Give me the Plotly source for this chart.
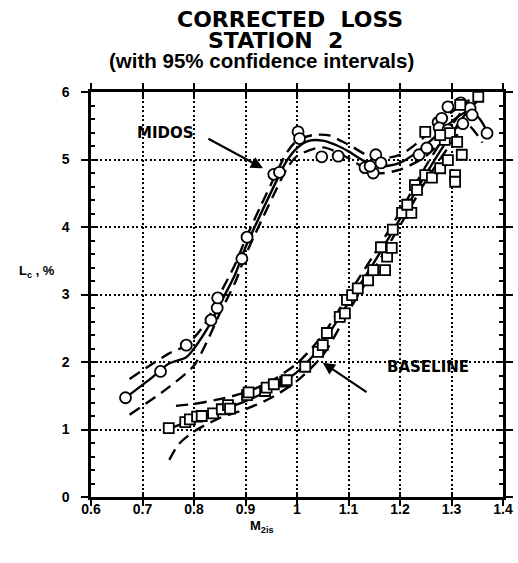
import plotly.graph_objects as go

# ---------------- data ----------------
midos_x = [0.667, 0.735, 0.785, 0.833, 0.845, 0.846, 0.893, 0.903, 0.955, 0.966,
           1.002, 1.005, 1.048, 1.080, 1.132, 1.148, 1.142, 1.153, 1.163, 1.237,
           1.252, 1.274, 1.281, 1.293, 1.318, 1.336, 1.340, 1.322, 1.369, 1.276, 1.293]
midos_y = [1.47, 1.86, 2.25, 2.62, 2.80, 2.95, 3.53, 3.85, 4.78, 4.81,
           5.41, 5.31, 5.04, 5.05, 4.88, 4.80, 4.90, 5.07, 4.95, 5.07,
           5.17, 5.55, 5.61, 5.78, 5.84, 5.76, 5.66, 5.53, 5.39, 5.47, 5.44]

base_x = [0.751, 0.783, 0.792, 0.806, 0.815, 0.837, 0.854, 0.866, 0.870, 0.903,
          0.906, 0.938, 0.941, 0.955, 0.977, 0.980, 1.016, 1.041, 1.050, 1.058,
          1.083, 1.093, 1.097, 1.107, 1.118, 1.138, 1.148, 1.171, 1.175, 1.163,
          1.184, 1.186, 1.204, 1.222, 1.214, 1.229, 1.233, 1.249, 1.262, 1.278,
          1.293, 1.287, 1.297, 1.311, 1.320, 1.307, 1.307, 1.249, 1.317, 1.352, 1.278]
base_y = [1.02, 1.11, 1.15, 1.19, 1.20, 1.24, 1.30, 1.36, 1.31, 1.51,
          1.55, 1.57, 1.62, 1.67, 1.71, 1.73, 1.93, 2.15, 2.25, 2.43,
          2.67, 2.72, 2.92, 2.99, 3.09, 3.21, 3.36, 3.36, 3.56, 3.70,
          3.69, 3.96, 4.21, 4.21, 4.33, 4.62, 4.55, 4.77, 4.73, 4.87,
          4.99, 5.29, 5.39, 5.26, 5.07, 4.77, 4.67, 5.41, 5.81, 5.93, 5.36]

# fitted curve and 95% confidence limits, MIDOS
midos_fit_x = [0.667, 0.72, 0.75, 0.785, 0.80, 0.83, 0.85, 0.88, 0.90, 0.93, 0.96, 0.98,
               1.00, 1.02, 1.05, 1.08, 1.10, 1.13, 1.16, 1.20, 1.24, 1.28, 1.31, 1.335, 1.355, 1.37]
midos_fit_y = [1.47, 1.78, 1.97, 2.07, 2.20, 2.55, 2.85, 3.30, 3.70, 4.20, 4.68, 4.98,
               5.17, 5.27, 5.28, 5.20, 5.12, 4.98, 4.90, 4.95, 5.15, 5.42, 5.62, 5.72, 5.60, 5.40]
midos_up_x = [0.675, 0.75, 0.785, 0.82, 0.85, 0.88, 0.90, 0.93, 0.96, 0.98, 1.00, 1.03,
              1.06, 1.10, 1.15, 1.20, 1.25, 1.30, 1.335]
midos_up_y = [1.75, 2.12, 2.25, 2.55, 3.00, 3.45, 3.82, 4.32, 4.80, 5.10, 5.28, 5.36,
              5.36, 5.22, 5.02, 5.07, 5.35, 5.70, 5.88]
midos_lo_x = [0.675, 0.75, 0.80, 0.83, 0.85, 0.88, 0.90, 0.93, 0.96, 0.98, 1.00, 1.05,
              1.10, 1.15, 1.20, 1.25, 1.30, 1.33, 1.36]
midos_lo_y = [1.22, 1.62, 1.95, 2.38, 2.72, 3.18, 3.58, 4.08, 4.56, 4.86, 5.05, 5.18,
              5.02, 4.80, 4.85, 5.05, 5.42, 5.52, 5.25]

# fitted curve and 95% confidence limits, BASELINE
base_fit_x = [0.755, 0.80, 0.85, 0.90, 0.95, 1.00, 1.03, 1.06, 1.10, 1.15, 1.20, 1.25,
              1.30, 1.33, 1.355]
base_fit_y = [1.02, 1.15, 1.28, 1.42, 1.60, 1.85, 2.08, 2.40, 2.88, 3.48, 4.12, 4.78,
              5.38, 5.70, 5.90]
base_up_x = [0.765, 0.80, 0.85, 0.90, 0.95, 1.00, 1.05, 1.10, 1.15, 1.20, 1.25, 1.30, 1.33]
base_up_y = [1.35, 1.38, 1.45, 1.55, 1.72, 1.98, 2.40, 3.00, 3.60, 4.22, 4.90, 5.50, 5.82]
base_lo_x = [0.752, 0.77, 0.80, 0.85, 0.90, 0.95, 1.00, 1.05, 1.10, 1.15, 1.20, 1.25, 1.30, 1.33]
base_lo_y = [0.55, 0.78, 0.97, 1.17, 1.30, 1.47, 1.72, 2.10, 2.75, 3.38, 4.02, 4.68, 5.25, 5.55]

x_ticks = [0.6, 0.7, 0.8, 0.9, 1.0, 1.1, 1.2, 1.3, 1.4]
y_ticks = [0, 1, 2, 3, 4, 5, 6]

title_lines = ["CORRECTED  LOSS", "STATION  2", "(with 95% confidence intervals)"]

# ---------------- figure ----------------
fig = go.Figure()

dash_style = "12px,7px"
for xs, ys, dsh in [(midos_up_x, midos_up_y, dash_style), (midos_lo_x, midos_lo_y, dash_style),
                    (base_up_x, base_up_y, dash_style), (base_lo_x, base_lo_y, dash_style),
                    (midos_fit_x, midos_fit_y, "solid"), (base_fit_x, base_fit_y, "solid")]:
    fig.add_trace(go.Scatter(x=xs, y=ys, mode="lines",
                             line=dict(color="black", width=2.4, dash=dsh, shape="spline", smoothing=0.8),
                             hoverinfo="skip", showlegend=False))

fig.add_trace(go.Scatter(x=midos_x, y=midos_y, mode="markers", showlegend=False,
                         marker=dict(symbol="circle", size=11, color="white",
                                     line=dict(color="black", width=1.8))))
fig.add_trace(go.Scatter(x=base_x, y=base_y, mode="markers", showlegend=False,
                         marker=dict(symbol="square", size=10, color="white",
                                     line=dict(color="black", width=1.8))))

# dummy trace to display the inner-tick overlay axes
fig.add_trace(go.Scatter(x=[], y=[], xaxis="x2", yaxis="y2", showlegend=False))

tickfont = dict(family="Liberation Sans", size=14, color="black", weight="bold")

fig.update_layout(
    width=518, height=563, autosize=False, showlegend=False,
    margin=dict(l=91, r=15, t=92, b=66, autoexpand=False),
    paper_bgcolor="white", plot_bgcolor="white",
    xaxis=dict(range=[0.6, 1.4], tickvals=x_ticks, ticktext=[f"{v:g}" for v in x_ticks],
               ticks="outside", ticklen=6, tickwidth=2, tickcolor="black",
               showline=True, linewidth=2.5, linecolor="black", mirror="ticks",
               showgrid=True, gridcolor="black", gridwidth=2, griddash="2px,2.5px",
               zeroline=False, tickfont=tickfont, ticklabelstandoff=-9, automargin=False),
    yaxis=dict(range=[0, 6], tickvals=y_ticks,
               ticks="outside", ticklen=7, tickwidth=2, tickcolor="black",
               showline=True, linewidth=2.5, linecolor="black", mirror="ticks",
               showgrid=True, gridcolor="black", gridwidth=2, griddash="2px,2.5px",
               zeroline=False, tickfont=tickfont, ticklabelstandoff=9, automargin=False),
    xaxis2=dict(range=[0.6, 1.4], overlaying="x", side="bottom", tickvals=x_ticks,
                ticks="inside", ticklen=5, tickwidth=2, tickcolor="black",
                showline=False, mirror="ticks", showgrid=False, zeroline=False,
                showticklabels=False, automargin=False),
    yaxis2=dict(range=[0, 6], overlaying="y", side="left", tickvals=y_ticks,
                ticks="inside", ticklen=5, tickwidth=2, tickcolor="black",
                showline=False, mirror="ticks", showgrid=False, zeroline=False,
                showticklabels=False, automargin=False,
                minor=dict(ticks="inside", tickvals=[v / 5 for v in range(31)],
                           ticklen=4, tickwidth=1.5, tickcolor="black")),
)

title_pos = [(0.483, 1.180, "DejaVu Sans", 22), (0.447, 1.127, "DejaVu Sans", 22),
             (0.415, 1.077, "Liberation Sans", 20.5)]
for (xp, yp, fam, sz), txt in zip(title_pos, title_lines):
    fig.add_annotation(text=txt, xref="paper", yref="paper", x=xp, y=yp,
                       xanchor="center", yanchor="middle", showarrow=False,
                       font=dict(family=fam, size=sz, color="black", weight="bold"))

lab_font = dict(family="DejaVu Sans", size=15, color="black", weight="bold")
fig.add_annotation(text="MIDOS", x=0.744, y=5.39, showarrow=False, font=lab_font,
                   xanchor="center", yanchor="middle")
fig.add_annotation(text="BASELINE", x=1.254, y=1.93, showarrow=False, font=lab_font,
                   xanchor="center", yanchor="middle")
fig.add_annotation(text="", x=0.934, y=4.87, ax=0.825, ay=5.32, axref="x", ayref="y",
                   showarrow=True, arrowhead=2, arrowsize=1.1, arrowwidth=2.2, arrowcolor="black")
fig.add_annotation(text="", x=1.05, y=1.99, ax=1.138, ay=1.54, axref="x", ayref="y",
                   showarrow=True, arrowhead=2, arrowsize=1.1, arrowwidth=2.2, arrowcolor="black")

axis_font = dict(family="Liberation Sans", size=13, color="black", weight="bold")
fig.add_annotation(text="L<sub>c</sub> , %", xref="paper", yref="paper", x=-0.131, y=0.556,
                   xanchor="center", yanchor="middle", showarrow=False, font=axis_font)
fig.add_annotation(text="M<sub>2is</sub>", xref="paper", yref="paper", x=0.415, y=-0.074,
                   xanchor="center", yanchor="middle", showarrow=False, font=axis_font)

fig.write_html("out.html")
